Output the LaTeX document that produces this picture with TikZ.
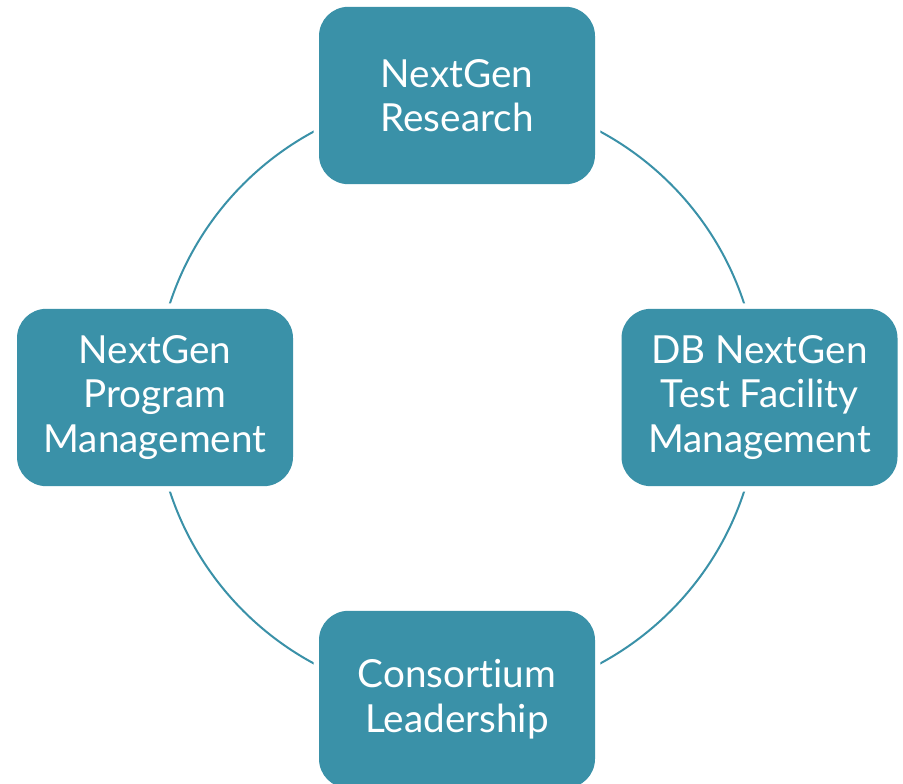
\documentclass[tikz,border=0pt]{standalone}
\usepackage{fontspec}
\setmainfont{Lato}[Ligatures=NoCommon]
\definecolor{ngteal}{HTML}{3A91A8}
\tikzset{
  ngbox/.style={rectangle, rounded corners=22pt, fill=ngteal, text=white,
    minimum width=207pt, minimum height=133pt, align=center,
    font=\fontsize{29}{33.5}\selectfont,
    preaction={draw=white, line width=8pt}},
}

\begin{document}
\begin{tikzpicture}[x=0.75pt, y=-0.75pt]
%%   kw   (name)   (x, y)   {text}
    \useasboundingbox (0,0) rectangle (903,784);
    \coordinate (hub) at (457,397.5);
    \draw[ngteal, line width=1.5pt] (hub) circle [radius=226.5pt];
    \node[ngbox] (research) at (457,95.5) {NextGen\\Research};
    \node[ngbox] (program) at (155,397.5) {NextGen\\Program\\Management};
    \node[ngbox] (facility) at (759.5,397.5) {DB NextGen\\Test Facility\\Management};
    \node[ngbox] (consortium) at (457,699.5) {Consortium\\Leadership};
\end{tikzpicture}
\end{document}
